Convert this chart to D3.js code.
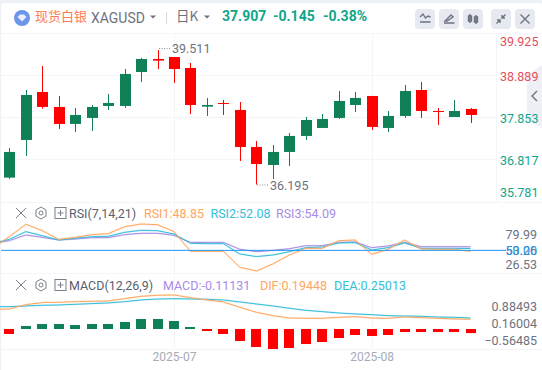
<!DOCTYPE html>
<html>
<head>
<meta charset="utf-8">
<script src="https://cdn.jsdelivr.net/npm/d3@7"></script>
<style>
  html, body { margin: 0; padding: 0; background: #fff; overflow: hidden; }
  text { font-family: Roboto, "Noto Sans CJK SC", sans-serif; }
  .domain { display: none; }
</style>
</head>
<body>
<div class="root"></div>
<script>
const open_ = [36.365, 37.294, 38.478, 38.108, 37.689, 37.837, 38.133, 38.133, 38.971, 39.292, 39.341, 39.070, 38.116, 38.207, 38.034, 37.121, 36.677, 36.998, 37.393, 37.590, 37.837, 38.157, 38.379, 37.590, 37.886, 38.527, 38.009, 37.861, 38.059]
const close_ = [36.998, 38.404, 38.108, 37.689, 37.911, 38.108, 38.207, 38.922, 39.292, 39.251, 39.045, 38.157, 38.157, 38.182, 37.121, 36.702, 36.998, 37.393, 37.787, 37.812, 38.256, 38.330, 37.615, 37.886, 38.503, 38.009, 37.985, 38.009, 37.911]
const high = [37.097, 38.527, 39.119, 38.379, 38.083, 38.157, 38.429, 39.045, 39.317, 39.511, 39.341, 39.193, 38.330, 38.281, 38.231, 37.269, 37.171, 37.467, 37.861, 37.935, 38.503, 38.478, 38.379, 38.009, 38.651, 38.725, 38.083, 38.281, 38.083]
const low = [36.332, 36.899, 38.067, 37.565, 37.491, 37.516, 38.034, 38.083, 38.725, 39.045, 38.700, 37.935, 37.886, 37.911, 36.776, 36.195, 36.332, 36.653, 37.294, 37.590, 37.812, 37.985, 37.541, 37.491, 37.837, 37.837, 37.664, 37.861, 37.713]

// the indicator lines start one bar left of the visible window
const rsi1 = [52.3, 65.58, 79.6, 72.4, 62.55, 64.8, 67.9, 69.0, 76.96, 79.99, 79.2, 71.27, 48.9, 48.9, 48.9, 30.7, 26.53, 34.5, 44.7, 52.3, 52.3, 61.0, 61.8, 45.5, 51.2, 61.8, 51.6, 51.2, 51.2, 48.85]
const rsi2 = [58.0, 62.55, 71.27, 66.7, 61.8, 63.7, 65.58, 65.96, 70.5, 72.8, 72.4, 68.6, 58.0, 57.6, 57.6, 45.9, 42.9, 44.7, 48.5, 53.1, 53.8, 58.4, 58.8, 50.4, 53.1, 58.4, 52.3, 52.3, 52.3, 52.08]
const rsi3 = [58.0, 61.03, 67.5, 64.8, 61.8, 62.9, 64.45, 64.45, 67.9, 69.4, 69.4, 67.1, 59.1, 59.1, 59.1, 51.2, 48.5, 50.0, 51.9, 55.3, 55.3, 59.1, 59.5, 53.1, 55.0, 59.1, 54.2, 54.2, 54.2, 54.09]

const dif = [.535, .544, .661, .716, .725, .743, .752, .761, .824, .888, .915, .924, .852, .788, .734, .589, .453, .362, .299, .290, .290, .317, .335, .299, .290, .326, .308, .290, .272, .263]
const dea = [.607, .607, .625, .643, .652, .670, .689, .707, .743, .788, .815, .824, .815, .806, .788, .734, .680, .625, .562, .507, .471, .435, .408, .390, .362, .353, .344, .326, .317, .299]
const macd = [-.136, .082, .136, .136, .109, .136, .136, .190, .272, .272, .217, .054, -.054, -.136, -.326, -.489, -.544, -.516, -.408, -.353, -.245, -.163, -.190, -.163, -.082, -.082, -.082, -.082, -.11131]

const priceTicks = [39.925, 38.889, 37.853, 36.817, 35.781]
const rsiTicks = [79.99, 53.26, 26.53]
const macdTicks = [0.88493, 0.16004, -0.56485]
const monthIndex = [10, 22]
const monthLabels = ['2025-07', '2025-08']

const width = 542
    , height = 370
    , up = '#108156'
    , down = '#ff0000'
    , grid = '#f4f5f8'
    , grey = '#6d7280'

const svg = d3.select('.root').append('svg')
              .attr('width', width)
              .attr('height', height)
              .style('display', 'block')

svg.append('rect').attr('width', width).attr('height', height).attr('fill', '#eef1f6')
svg.append('rect').attr('x', 1).attr('y', 3).attr('width', width).attr('height', height)
   .attr('rx', 4).attr('fill', '#fff')

const x = d3.scaleLinear().domain([0, 28]).range([9.3, 470.5])
const y = d3.scaleLinear().domain([35.781, 39.925]).range([201.3, 33.3])
const yRsi = d3.scaleLinear().domain([26.53, 79.99]).range([271, 224])
const yMacd = d3.scaleLinear().domain([-0.56485, 0.88493]).range([349.8, 296.4])

// grid and panel separators
const gridG = svg.append('g').attr('stroke', grid).attr('stroke-width', 1)
gridG.selectAll('.h').data(priceTicks.slice(1, 4)).enter().append('line')
     .attr('x1', 1).attr('x2', 497)
     .attr('y1', d => Math.round(y(d)) + .5).attr('y2', d => Math.round(y(d)) + .5)
gridG.selectAll('.v').data(monthIndex).enter().append('line')
     .attr('x1', d => Math.round(x(d)) + .5).attr('x2', d => Math.round(x(d)) + .5)
     .attr('y1', 33).attr('y2', 349)
const seps = [[1, 542, 33.5, 33.5], [1, 542, 202.5, 202.5], [1, 542, 273.5, 273.5], [1, 542, 349.5, 349.5], [496.5, 496.5, 33, 203]]
gridG.selectAll('.s').data(seps).enter().append('line')
     .attr('x1', d => d[0]).attr('x2', d => d[1]).attr('y1', d => d[2]).attr('y2', d => d[3])

// side handle, sits under the price labels
svg.append('path').attr('d', 'M527 75 L542 65 V128 L527 120 Z').attr('fill', '#eef0f5')
svg.append('path').attr('d', 'M537 91 L532 96 L537 101').attr('fill', 'none').attr('stroke', '#6d7280').attr('stroke-width', 1.4)

// candles
const candles = svg.append('g').selectAll('g').data(open_).enter().append('g')
  .attr('fill', (d, i) => close_[i] >= d ? up : down)
candles.append('rect')
  .attr('x', (d, i) => Math.round(x(i)) )
  .attr('width', 1)
  .attr('y', (d, i) => y(high[i]))
  .attr('height', (d, i) => y(low[i]) - y(high[i]))
candles.append('rect')
  .attr('x', (d, i) => Math.round(x(i)) - 5)
  .attr('width', 11)
  .attr('y', (d, i) => y(Math.max(d, close_[i])))
  .attr('height', (d, i) => Math.max(1, Math.abs(y(d) - y(close_[i]))))

// high / low notes
function note (idx, val, dy) {
  const nx = Math.round(x(idx)) + 1, ny = y(val) + dy
  svg.append('line').attr('x1', nx).attr('x2', nx + 11).attr('y1', ny).attr('y2', ny)
     .attr('stroke', '#8a8f9e').attr('stroke-dasharray', '1,1.5')
  svg.append('text').attr('x', nx + 13).attr('y', ny + 4.5).attr('font-size', 12.5)
     .attr('fill', grey).text(d3.format('.3f')(val))
}
note(9, 39.511, -1.5)
note(15, 36.195, 0.5)

// indicator lines
const lineOn = scale => d3.line().x((d, i) => x(i - 1)).y(d => scale(d))
function drawLine (vals, scale, color) {
  svg.append('path').datum(vals).attr('d', lineOn(scale)).attr('fill', 'none')
     .attr('stroke', color).attr('stroke-opacity', .18).attr('stroke-width', 2)
  svg.append('path').datum(vals).attr('d', lineOn(scale)).attr('fill', 'none')
     .attr('stroke', color).attr('stroke-width', 1)
}
drawLine(rsi3, yRsi, '#a98be6')
drawLine(rsi2, yRsi, '#34bedb')
drawLine(rsi1, yRsi, '#ffa65e')
drawLine(dea, yMacd, '#34bedb')
drawLine(dif, yMacd, '#ffa65e')

svg.append('line').attr('x1', 1).attr('x2', 506)
   .attr('y1', yRsi(50)).attr('y2', yRsi(50))
   .attr('stroke', '#2196f3').attr('stroke-width', 1)

// macd bars
svg.append('g').selectAll('rect').data(macd).enter().append('rect')
   .attr('x', (d, i) => Math.round(x(i)) - 5)
   .attr('width', 10)
   .attr('y', d => yMacd(Math.max(d, 0)))
   .attr('height', d => Math.abs(yMacd(d) - yMacd(0)))
   .attr('fill', d => d >= 0 ? up : down)

// right hand axes, labels get pushed inside their panel
function sideAxis (scale, ticks, fmt, lo, hi, shift, anchor, xPos, color) {
  const g = svg.append('g').attr('transform', `translate(${xPos}, 0)`)
    .call(d3.axisRight(scale).tickValues(ticks).tickFormat(fmt).tickSize(0).tickPadding(0))
  g.selectAll('.tick').attr('transform', d => `translate(0, ${Math.min(hi, Math.max(lo, scale(d) + shift))})`)
  g.selectAll('text').attr('font-size', 12.5).attr('text-anchor', anchor)
   .attr('fill', color).attr('font-family', null)
  return g
}
sideAxis(y, priceTicks, d3.format('.3f'), 41.7, 192.7, 2, 'start', 500, d => d > 38 ? '#e4505c' : '#12a58a')
  .selectAll('text').attr('fill', d => d > 38 ? '#e4505c' : '#12a58a')
sideAxis(yRsi, rsiTicks, d3.format('.2f'), 235.3, 264.7, 3, 'end', 537, grey)
sideAxis(yRsi, [50], d3.format('.2f'), 235.3, 264.7, 0.5, 'end', 537, '#2196f3')
sideAxis(yMacd, macdTicks, d3.format('.5f'), 306.7, 340.7, 1, 'end', 537, grey)

// time axis
const timeAxis = svg.append('g').attr('transform', 'translate(0, 350)')
  .call(d3.axisBottom(x).tickValues(monthIndex).tickFormat((d, i) => monthLabels[i]).tickSize(0).tickPadding(2))
timeAxis.selectAll('text').attr('font-size', 12).attr('fill', '#a6abb8').attr('font-family', null)

// header
const head = svg.append('g')
head.append('circle').attr('cx', 22).attr('cy', 18).attr('r', 8).attr('fill', '#6c96ea')
head.append('path').attr('d', 'M17.5 17 L20 14.5 H24 L26.5 17 L22 21.5 Z').attr('fill', '#fff').attr('fill-opacity', .85)
const label = (t, lx, ly, size, color, extra) => {
  const n = svg.append('text').attr('x', lx).attr('y', ly).attr('font-size', size).attr('fill', color).text(t)
  if (extra) n.attr('font-weight', extra)
  return n
}
label('现货白银', 35, 21, 13, '#ff7a50').style('font-family', '"Noto Sans CJK SC"')
label('XAGUSD', 91, 22.5, 14, grey)
label('日K', 176, 21, 13.5, grey).style('font-family', '"Noto Sans CJK SC"')
label('37.907', 222, 21, 14, '#0fa68a', 700)
label('-0.145', 273, 21, 14, '#0fa68a', 700)
label('-0.38%', 323, 21, 14, '#0fa68a', 700)
head.append('path').attr('d', 'M150 15.5 H156 L153 18.5 Z M204 15.5 H210 L207 18.5 Z').attr('fill', grey)
head.append('line').attr('x1', 166.5).attr('x2', 166.5).attr('y1', 12).attr('y2', 24).attr('stroke', '#d5d8e0')

// toolbar buttons
const buttons = [415, 439, 463, 491, 515]
const icons = [
  'M5 8 L8 5 L10.5 9 L13 7 L15.5 8 M5 13 H15.5',
  'M5 14 H15.5 M6 12 L12 6 L14 8 L8 12 Z',
  'M7 5 V14 M13 6 V15 M5.5 7 H8.5 V12 H5.5 Z M11.5 8 H14.5 V13 H11.5 Z',
  'M5.5 14.5 L9 11 M9 14 V11 H6 M14.5 5.5 L11 9 M11 6 V9 H14',
  'M5.5 5.5 L14.5 14.5 M14.5 5.5 L5.5 14.5'
]
const btn = svg.append('g').selectAll('g').data(buttons).enter().append('g')
  .attr('transform', d => `translate(${d}, 9)`)
btn.append('rect').attr('width', 20).attr('height', 20).attr('rx', 4).attr('fill', '#e7e9f0')
btn.append('path').attr('d', (d, i) => icons[i]).attr('fill', 'none').attr('stroke', '#6d7280').attr('stroke-width', 1.4)

// indicator title rows
function titleRow (cy, name, items) {
  const g = svg.append('g').attr('fill', 'none').attr('stroke', '#7a7f8e').attr('stroke-width', 1)
  g.append('path').attr('d', `M16 ${cy - 5} L26 ${cy + 5} M26 ${cy - 5} L16 ${cy + 5}`)
  g.append('path').attr('d', `M41 ${cy - 6} L46 ${cy - 3} V${cy + 3} L41 ${cy + 6} L36 ${cy + 3} V${cy - 3} Z`)
  g.append('circle').attr('cx', 41).attr('cy', cy).attr('r', 2)
  g.append('rect').attr('x', 55).attr('y', cy - 5.5).attr('width', 11).attr('height', 11)
  g.append('path').attr('d', `M57.5 ${cy} H63.5 M60.5 ${cy - 3} V${cy + 3}`)
  label(name, 69, cy + 4.5, 12.5, '#5a5f6e')
  items.forEach(d => label(d[0], d[1], cy + 4.5, 12.5, d[2]))
}
titleRow(213, 'RSI(7,14,21)', [['RSI1:48.85', 144, '#ffa65e'], ['RSI2:52.08', 210.5, '#34bedb'], ['RSI3:54.09', 276, '#a98be6']])
titleRow(285, 'MACD(12,26,9)', [['MACD:-0.11131', 163, '#a98be6'], ['DIF:0.19448', 260, '#ffa65e'], ['DEA:0.25013', 334, '#34bedb']])
</script>
</body>
</html>
